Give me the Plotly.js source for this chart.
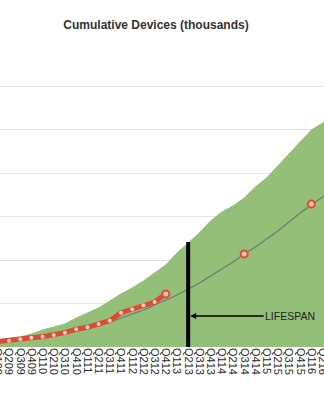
<!DOCTYPE html>
<html>
<head>
<meta charset="utf-8">
<script src="https://cdn.plot.ly/plotly-3.0.1.min.js"></script>
<style>
html, body { margin: 0; padding: 0; width: 324px; height: 400px; overflow: hidden; background: #fff; }
#chart { position: absolute; left: -12px; top: 0; width: 348px; height: 400px; }
</style>
</head>
<body>
<div id="chart"></div>
<script>
// Quarters shown on the x axis
const quarters = ['Q109','Q209','Q309','Q409','Q110','Q210','Q310','Q410','Q111','Q211','Q311','Q411',
  'Q112','Q212','Q312','Q412','Q113','Q213','Q313','Q413','Q114','Q214','Q314','Q414',
  'Q115','Q215','Q315','Q415','Q116','Q216','Q316'];

// Upper envelope (green area), thousands
const envelopeValues = [69, 92, 115, 150, 196, 230, 265, 334, 392, 449, 530, 611,
  680, 760, 852, 945, 1083, 1198, 1313, 1452, 1555, 1624, 1716, 1843,
  1947, 2085, 2223, 2373, 2500, 2580, 2661];

// Actual cumulative devices (red line), thousands
const actualQuarters = ['Q109','Q209','Q309','Q409','Q110','Q210','Q310','Q410','Q111','Q211','Q311','Q411',
  'Q112','Q212','Q312','Q412'];
const actualValues = [63, 73, 89, 107, 119, 138, 165, 204, 227, 265, 303, 395, 434, 480, 518, 611];

// Trend curve (grey line), thousands
const trendValues = [58, 69, 81, 98, 115, 132, 156, 184, 213, 248, 288, 334,
  380, 426, 484, 541, 599, 668, 737, 818, 899, 979, 1071, 1152,
  1244, 1336, 1440, 1544, 1636, 1728, 1820];

// Projected points (hollow red circles)
const projQuarters = ['Q412', 'Q314', 'Q116'];
const projValues = [611, 1071, 1647];

// Lifespan marker
const lifespanQuarter = 'Q213';
const lifespanTop = 1210;
const lifespanArrowY = 357;
const lifespanLabel = 'LIFESPAN';

const chartTitle = 'Cumulative Devices (thousands)';
const yTicks = [0, 500, 1000, 1500, 2000, 2500, 3000, 3500];

const lifeIdx = quarters.indexOf(lifespanQuarter);

const traces = [
  {
    x: quarters, y: envelopeValues, type: 'scatter', mode: 'lines',
    fill: 'tozeroy', fillcolor: '#94bf79', line: {color: '#94bf79', width: 1},
    hoverinfo: 'skip'
  },
  {
    x: quarters, y: trendValues, type: 'scatter', mode: 'lines',
    line: {color: '#6f7d72', width: 1.3, shape: 'spline'}
  },
  {
    x: actualQuarters, y: actualValues, type: 'scatter', mode: 'lines+markers',
    line: {color: '#da4b34', width: 5},
    marker: {size: 4, color: '#f6cbbd'}
  },
  {
    x: projQuarters, y: projValues, type: 'scatter', mode: 'markers',
    marker: {size: 7, color: '#f3c4b6', line: {color: '#e04c36', width: 2}}
  }
];

const layout = {
  width: 348, height: 400,
  margin: {l: 0, r: 0, t: 43, b: 53, pad: 0},
  paper_bgcolor: '#ffffff', plot_bgcolor: '#ffffff',
  showlegend: false,
  title: {
    text: chartTitle,
    font: {family: 'Liberation Sans, Arial, sans-serif', size: 12, color: '#333333', weight: 700},
    x: (156 + 12) / 348, xref: 'paper', xanchor: 'center',
    y: 1 - 25 / 400, yref: 'container', yanchor: 'middle'
  },
  xaxis: {
    type: 'category', categoryarray: quarters, categoryorder: 'array',
    range: [-0.875, 30.2],
    tickmode: 'array', tickvals: quarters, ticktext: quarters,
    showgrid: false, zeroline: false, showline: false, ticks: '',
    tickangle: 90,
    tickfont: {family: 'Liberation Sans, Arial, sans-serif', size: 11, color: '#2a2a2a'},
    automargin: false
  },
  yaxis: {
    range: [0, 3502], tickvals: yTicks, showticklabels: false,
    showgrid: true, gridcolor: '#e4e4e4', gridwidth: 1,
    zeroline: false, showline: false, ticks: '', automargin: false
  },
  shapes: [
    {type: 'line', xref: 'x', yref: 'y', x0: lifeIdx, x1: lifeIdx, y0: 0, y1: lifespanTop,
     line: {color: '#000000', width: 4}}
  ],
  annotations: [
    {x: lifeIdx, y: lifespanArrowY, xref: 'x', yref: 'y', text: lifespanLabel,
     showarrow: true, ax: 102, ay: 0, arrowhead: 2, arrowsize: 0.8, arrowwidth: 1.5,
     arrowcolor: '#000000', standoff: 2,
     font: {family: 'Liberation Sans, Arial, sans-serif', size: 10.5, color: '#222222'}}
  ]
};

Plotly.newPlot('chart', traces, layout, {staticPlot: true, displayModeBar: false});
</script>
</body>
</html>
